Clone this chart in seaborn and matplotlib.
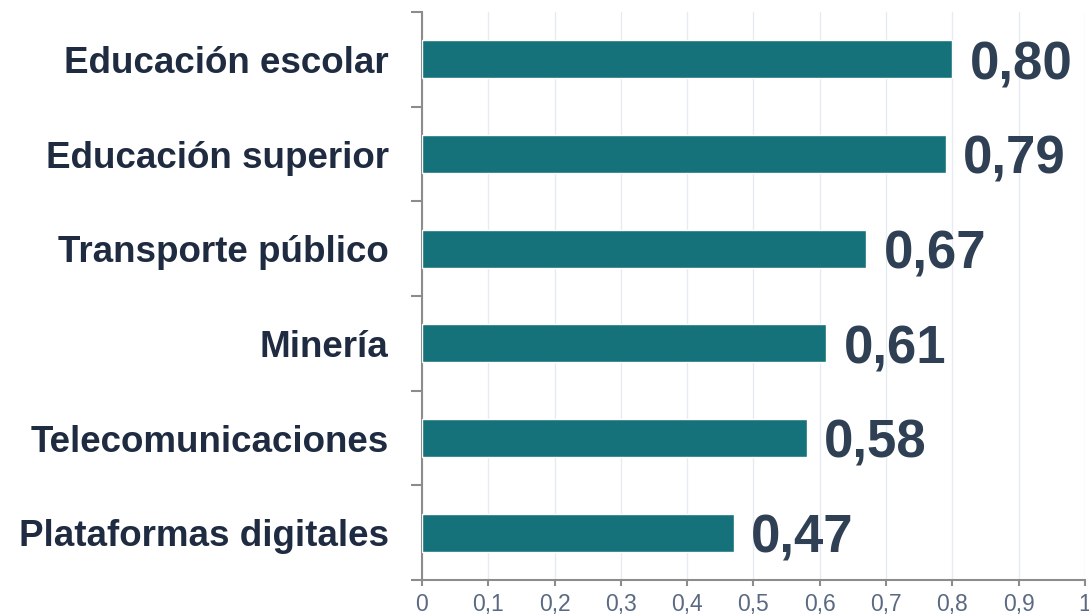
import matplotlib
matplotlib.use("Agg")
import matplotlib.pyplot as plt
import seaborn as sns
import pandas as pd
import numpy as np
from matplotlib.ticker import FixedLocator

# Datos
categorias = ["Educación escolar", "Educación superior", "Transporte público",
              "Minería", "Telecomunicaciones", "Plataformas digitales"]
valores = [0.80, 0.79, 0.67, 0.61, 0.58, 0.47]
etiquetas_valor = ["0,80", "0,79", "0,67", "0,61", "0,58", "0,47"]
ticks_x = [0, 0.1, 0.2, 0.3, 0.4, 0.5, 0.6, 0.7, 0.8, 0.9, 1.0]
etiquetas_x = ["0", "0,1", "0,2", "0,3", "0,4", "0,5", "0,6", "0,7", "0,8", "0,9", "1"]

df = pd.DataFrame({"categoria": categorias, "valor": valores})

sns.set_style("white")
plt.rcParams["font.family"] = ["Liberation Sans", "DejaVu Sans"]

fig = plt.figure(figsize=(10.89, 6.16), dpi=100)
ax = fig.add_axes([0.3875, 0.0584, 0.6088, 0.9221])

sns.barplot(data=df, x="valor", y="categoria", color="#16727A", width=0.40,
            saturation=1, ax=ax, zorder=3)

# Etiquetas de valor
for i, (v, txt) in enumerate(zip(valores, etiquetas_valor)):
    ax.text(v + 0.026, i + 0.06, txt, va="center", ha="left", fontsize=38,
            fontweight="bold", color="#2F4055", zorder=4)

ax.set_xlim(0, 1)
ax.set_ylim(5.5, -0.5)
ax.set_xticks(ticks_x)
ax.set_xticklabels(etiquetas_x, fontsize=16.5, color="#5B6A82")
ax.set_xlabel("")
ax.set_ylabel("")

# Categorías
ax.set_yticks(range(len(categorias)))
ax.set_yticklabels(categorias, fontsize=26.5, fontweight="bold", color="#1E2B40")
ax.tick_params(bottom=True, left=True, which="both")
ax.tick_params(axis="y", which="major", length=0, pad=24)
ax.yaxis.set_minor_locator(FixedLocator(np.arange(-0.5, 6, 1)))
ax.tick_params(axis="y", which="minor", length=8, width=1.5, color="#8C8C8C")
ax.tick_params(axis="x", which="major", length=4.5, width=1.5, color="#8C8C8C", pad=5)

# Grilla y ejes
ax.grid(axis="x", color="#E6EBF2", linewidth=1, zorder=0)
ax.grid(axis="y", visible=False)
for lado in ["top", "right"]:
    ax.spines[lado].set_visible(False)
for lado in ["left", "bottom"]:
    ax.spines[lado].set_color("#8C8C8C")
    ax.spines[lado].set_linewidth(1.5)

plt.savefig("out.png", dpi=100)
